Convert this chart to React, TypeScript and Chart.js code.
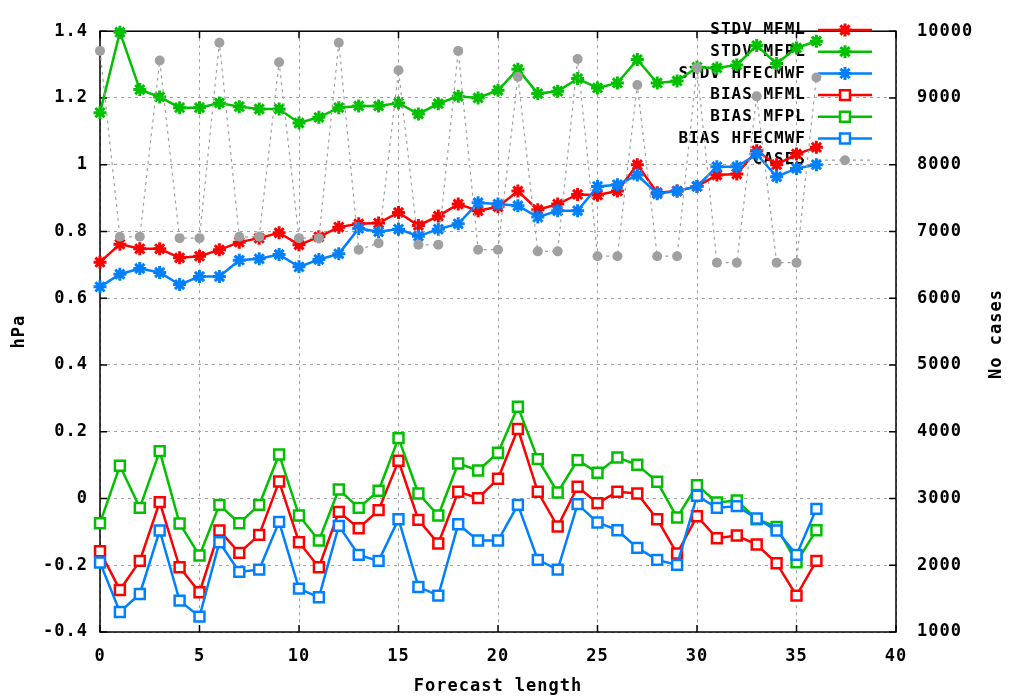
import React, { useEffect, useRef } from "react";
import { Chart, registerables } from "chart.js";

Chart.register(...registerables);

const forecastLength = [0, 1, 2, 3, 4, 5, 6, 7, 8, 9, 10, 11, 12, 13, 14, 15, 16, 17, 18, 19, 20, 21, 22, 23, 24, 25, 26, 27, 28, 29, 30, 31, 32, 33, 34, 35, 36];

const stdvMFML = [0.708, 0.762, 0.748, 0.748, 0.721, 0.726, 0.745, 0.768, 0.78, 0.796, 0.76, 0.784, 0.813, 0.823, 0.825, 0.857, 0.818, 0.846, 0.882, 0.862, 0.874, 0.921, 0.865, 0.882, 0.911, 0.909, 0.921, 1.0, 0.916, 0.921, 0.935, 0.969, 0.972, 1.042, 1.0, 1.032, 1.052];
const stdvMFPL = [1.156, 1.397, 1.225, 1.203, 1.171, 1.171, 1.185, 1.174, 1.167, 1.167, 1.125, 1.142, 1.171, 1.176, 1.176, 1.185, 1.152, 1.183, 1.205, 1.2, 1.223, 1.286, 1.213, 1.22, 1.258, 1.23, 1.245, 1.315, 1.245, 1.251, 1.292, 1.29, 1.299, 1.357, 1.303, 1.35, 1.37];
const stdvHFECMWF = [0.634, 0.672, 0.689, 0.677, 0.641, 0.665, 0.665, 0.714, 0.718, 0.731, 0.694, 0.716, 0.733, 0.809, 0.799, 0.807, 0.786, 0.807, 0.823, 0.886, 0.882, 0.877, 0.843, 0.862, 0.862, 0.935, 0.94, 0.969, 0.913, 0.921, 0.935, 0.994, 0.994, 1.032, 0.964, 0.989, 1.0];
const biasMFML = [-0.158, -0.274, -0.187, -0.011, -0.206, -0.281, -0.096, -0.163, -0.109, 0.051, -0.131, -0.206, -0.04, -0.089, -0.035, 0.113, -0.064, -0.135, 0.02, 0.001, 0.059, 0.208, 0.02, -0.084, 0.035, -0.014, 0.02, 0.015, -0.062, -0.165, -0.053, -0.119, -0.111, -0.138, -0.194, -0.291, -0.187];
const biasMFPL = [-0.074, 0.098, -0.028, 0.142, -0.075, -0.171, -0.019, -0.074, -0.019, 0.132, -0.051, -0.126, 0.027, -0.028, 0.023, 0.181, 0.015, -0.051, 0.105, 0.084, 0.137, 0.275, 0.118, 0.018, 0.115, 0.077, 0.123, 0.101, 0.05, -0.057, 0.04, -0.012, -0.006, -0.062, -0.085, -0.191, -0.095];
const biasHFECMWF = [-0.192, -0.34, -0.286, -0.096, -0.306, -0.354, -0.131, -0.22, -0.213, -0.07, -0.27, -0.296, -0.082, -0.169, -0.187, -0.062, -0.265, -0.291, -0.077, -0.126, -0.126, -0.019, -0.184, -0.213, -0.017, -0.072, -0.095, -0.148, -0.184, -0.199, 0.008, -0.028, -0.023, -0.06, -0.096, -0.169, -0.031];
const cases = [9705, 6920, 6920, 9560, 6900, 6900, 9827, 6920, 6920, 9535, 6900, 6900, 9827, 6727, 6825, 9414, 6800, 6800, 9705, 6727, 6727, 9316, 6702, 6702, 9584, 6630, 6630, 9195, 6630, 6630, 9452, 6533, 6533, 9024, 6533, 6533, 9307];

const xTicks = [0, 5, 10, 15, 20, 25, 30, 35, 40];
const leftTicks = [-0.4, -0.2, 0, 0.2, 0.4, 0.6, 0.8, 1, 1.2, 1.4];
const rightTicks = [1000, 2000, 3000, 4000, 5000, 6000, 7000, 8000, 9000, 10000];

const RED = "#ff0000";
const GREEN = "#00c000";
const BLUE = "#0080ff";
const GRAY = "#a0a0a0";
const FONT = "'DejaVu Sans Mono', monospace";

const pts = (ys: number[]) => ys.map((y, i) => ({ x: forecastLength[i], y }));

function drawMarker(ctx: CanvasRenderingContext2D, style: string, x: number, y: number, r: number, color: string, fill: string, lw: number) {
  ctx.save();
  ctx.strokeStyle = color;
  ctx.fillStyle = fill;
  ctx.lineWidth = lw;
  ctx.setLineDash([]);
  ctx.beginPath();
  if (style === "star") {
    const d = r * Math.SQRT1_2;
    ctx.moveTo(x - r, y); ctx.lineTo(x + r, y);
    ctx.moveTo(x, y - r); ctx.lineTo(x, y + r);
    ctx.moveTo(x - d, y - d); ctx.lineTo(x + d, y + d);
    ctx.moveTo(x - d, y + d); ctx.lineTo(x + d, y - d);
    ctx.stroke();
  } else if (style === "rect") {
    const s = r * Math.SQRT1_2;
    ctx.rect(x - s, y - s, 2 * s, 2 * s);
    ctx.fill();
    ctx.stroke();
  } else {
    ctx.arc(x, y, r, 0, Math.PI * 2);
    ctx.fill();
  }
  ctx.restore();
}

const decorPlugin = {
  id: "gnuplotDecor",
  beforeDraw(chart: any) {
    (chart.ctx as any).letterSpacing = "1px";
  },
  beforeDatasetsDraw(chart: any) {
    const { ctx, chartArea: a, scales } = chart;
    ctx.save();
    (ctx as any).letterSpacing = "1px";
    ctx.strokeStyle = "#000";
    ctx.lineWidth = 1.5;
    ctx.setLineDash([]);
    const tl = 7;
    ctx.beginPath();
    xTicks.forEach((v) => {
      const px = scales.x.getPixelForValue(v);
      ctx.moveTo(px, a.bottom); ctx.lineTo(px, a.bottom - tl);
      ctx.moveTo(px, a.top); ctx.lineTo(px, a.top + tl);
    });
    leftTicks.forEach((v) => {
      const py = scales.y.getPixelForValue(v);
      ctx.moveTo(a.left, py); ctx.lineTo(a.left + tl, py);
    });
    rightTicks.forEach((v) => {
      const py = scales.y2.getPixelForValue(v);
      ctx.moveTo(a.right, py); ctx.lineTo(a.right - tl, py);
    });
    ctx.stroke();
    ctx.strokeRect(a.left, a.top, a.right - a.left, a.bottom - a.top);

    // legend (gnuplot style key, top right)
    const textRight = 806;
    const x0 = 818;
    const x1 = 872;
    const y0 = 30;
    const dy = 21.7;
    ctx.font = `bold 16px ${FONT}`;
    ctx.textAlign = "right";
    ctx.textBaseline = "middle";
    chart.data.datasets.forEach((ds: any, i: number) => {
      const y = y0 + i * dy;
      ctx.fillStyle = "#000";
      ctx.fillText(ds.label, textRight, y);
      ctx.save();
      ctx.strokeStyle = ds.borderColor;
      ctx.lineWidth = ds.borderWidth;
      ctx.setLineDash(ds.borderDash || []);
      ctx.beginPath();
      ctx.moveTo(x0, y);
      ctx.lineTo(x1, y);
      ctx.stroke();
      ctx.restore();
      drawMarker(ctx, ds.pointStyle, (x0 + x1) / 2, y, ds.pointRadius, ds.borderColor, ds.pointBackgroundColor, ds.pointBorderWidth);
    });

    // right axis title, rotated bottom-to-top like gnuplot
    ctx.save();
    ctx.translate(997, 334);
    ctx.rotate(-Math.PI / 2);
    ctx.font = `bold 17px ${FONT}`;
    ctx.fillStyle = "#000";
    ctx.textAlign = "center";
    ctx.textBaseline = "middle";
    ctx.fillText("No cases", 0, 0);
    ctx.restore();
    ctx.restore();
  },
};

export default function App() {
  const ref = useRef<HTMLCanvasElement | null>(null);
  useEffect(() => {
    document.body.style.margin = "0";
    const canvas = ref.current;
    if (!canvas) return;
    const tickFont = { family: FONT, size: 17, weight: "bold" as const };
    const starDs = (label: string, data: number[], color: string, order: number) => ({
      label,
      data: pts(data),
      borderColor: color,
      backgroundColor: color,
      pointBackgroundColor: color,
      pointBorderColor: color,
      pointStyle: "star",
      pointRadius: 6.5,
      pointBorderWidth: 3,
      borderWidth: 2.5,
      yAxisID: "y",
      clip: false,
      order,
    });
    const rectDs = (label: string, data: number[], color: string, order: number) => ({
      label,
      data: pts(data),
      borderColor: color,
      backgroundColor: "#ffffff",
      pointBackgroundColor: "#ffffff",
      pointBorderColor: color,
      pointStyle: "rect",
      pointRadius: 7,
      pointBorderWidth: 2.5,
      borderWidth: 2.5,
      yAxisID: "y",
      clip: false,
      order,
    });
    const chart = new Chart(canvas, {
      type: "line",
      data: {
        datasets: [
          starDs("STDV MFML", stdvMFML, RED, 6),
          starDs("STDV MFPL", stdvMFPL, GREEN, 5),
          starDs("STDV HFECMWF", stdvHFECMWF, BLUE, 4),
          rectDs("BIAS MFML", biasMFML, RED, 3),
          rectDs("BIAS MFPL", biasMFPL, GREEN, 2),
          rectDs("BIAS HFECMWF", biasHFECMWF, BLUE, 1),
          {
            label: "CASES",
            data: pts(cases),
            borderColor: GRAY,
            backgroundColor: GRAY,
            pointBackgroundColor: GRAY,
            pointBorderColor: GRAY,
            pointStyle: "circle",
            pointRadius: 5,
            pointBorderWidth: 0,
            borderWidth: 1.2,
            borderDash: [3, 4],
            yAxisID: "y2",
            clip: false,
            order: 0,
          } as any,
        ] as any,
      },
      options: {
        animation: false,
        responsive: false,
        devicePixelRatio: 1,
        layout: { padding: { top: 14, left: 0, right: 0, bottom: 0 } },
        plugins: { legend: { display: false }, tooltip: { enabled: false } },
        elements: { line: { tension: 0 } },
        scales: {
          x: {
            type: "linear",
            min: 0,
            max: 40,
            afterBuildTicks: (s: any) => { s.ticks = xTicks.map((v) => ({ value: v })); },
            afterFit: (s: any) => { s.height = 68; },
            ticks: { font: tickFont, color: "#000", padding: 14, maxRotation: 0, callback: (v: any) => String(v) },
            grid: { color: GRAY, lineWidth: 1, drawTicks: false },
            border: { display: false, dash: [3, 4] },
            title: { display: true, text: "Forecast length", font: { family: FONT, size: 17, weight: "bold" }, color: "#000", padding: { top: 0, bottom: 3 } },
          },
          y: {
            type: "linear",
            position: "left",
            min: -0.4,
            max: 1.4,
            afterBuildTicks: (s: any) => { s.ticks = leftTicks.map((v) => ({ value: v })); },
            afterFit: (s: any) => { s.width = 100; },
            ticks: { font: tickFont, color: "#000", padding: 12, callback: (v: any) => String(Number(Number(v).toFixed(1))) },
            grid: { color: GRAY, lineWidth: 1, drawTicks: false },
            border: { display: false, dash: [3, 4] },
            title: { display: true, text: "hPa", font: { family: FONT, size: 17, weight: "bold" }, color: "#000", padding: { top: 9, bottom: 0 } },
          },
          y2: {
            type: "linear",
            position: "right",
            min: 1000,
            max: 10000,
            afterBuildTicks: (s: any) => { s.ticks = rightTicks.map((v) => ({ value: v })); },
            afterFit: (s: any) => { s.width = 113; },
            ticks: { font: tickFont, color: "#000", padding: 21, callback: (v: any) => String(v) },
            grid: { drawOnChartArea: false, drawTicks: false },
            border: { display: false },
          },
        },
      } as any,
      plugins: [decorPlugin as any],
    });
    return () => chart.destroy();
  }, []);
  return (
    <div style={{ width: 1009, height: 700 }}>
      <canvas ref={ref} width={1009} height={700} style={{ display: "block" }} />
    </div>
  );
}
